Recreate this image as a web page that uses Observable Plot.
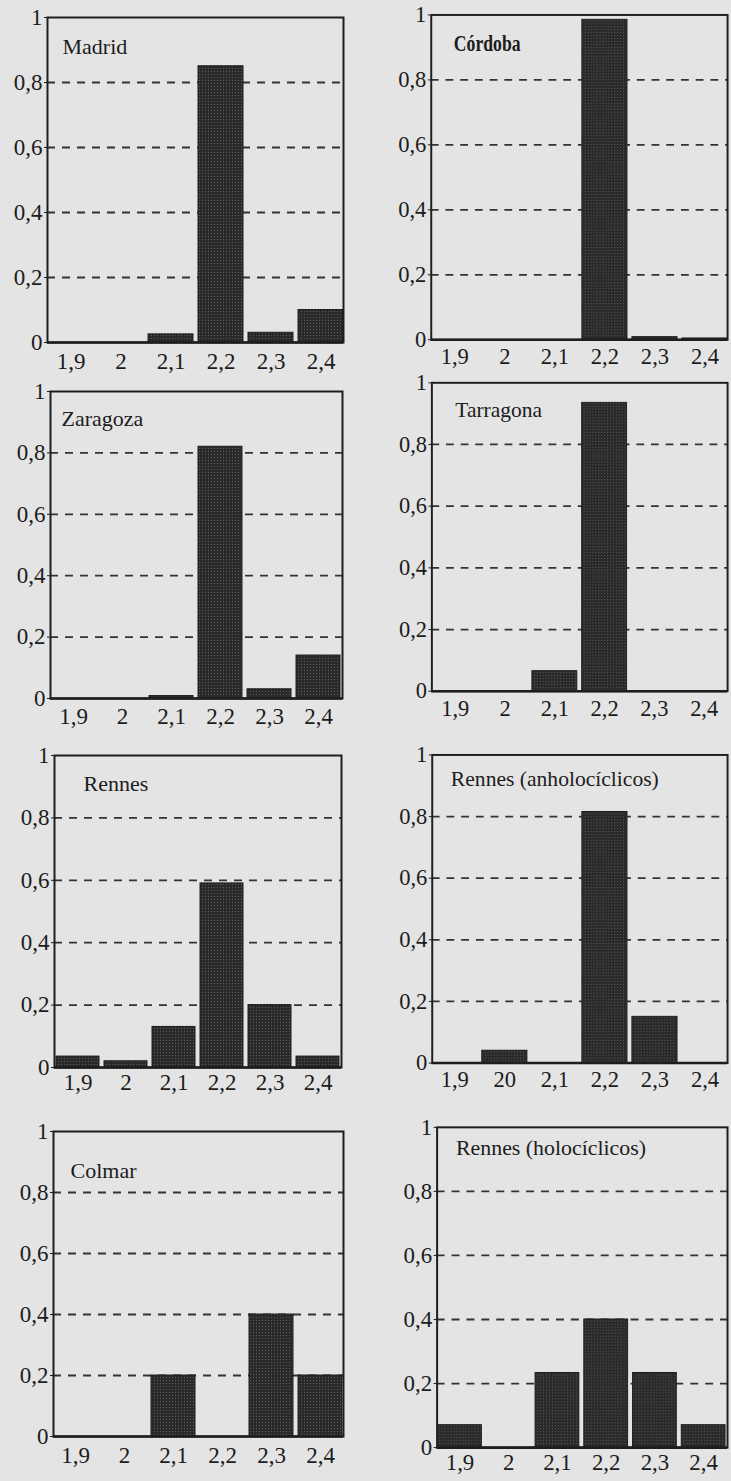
<!DOCTYPE html>
<html><head><meta charset="utf-8">
<script src="https://cdn.jsdelivr.net/npm/d3@7"></script>
<script src="https://cdn.jsdelivr.net/npm/@observablehq/plot@0.6"></script>
<style>
html,body{margin:0;padding:0;background:#e4e4e4;}
#root{position:relative;width:731px;height:1481px;overflow:hidden;background:#e4e4e4;}
#root .panel{position:absolute;}
#root svg text{font-family:"Liberation Serif","Times New Roman",serif;}
</style></head><body>
<svg width="0" height="0" style="position:absolute"><defs>
<pattern id="stip" width="3" height="3" patternUnits="userSpaceOnUse"><rect width="3" height="3" fill="#2a2a2a"/><rect x="1" y="1" width="1" height="1" fill="#5c5c5c"/></pattern>
</defs></svg>
<div id="root"></div>
<script>
// ---- data ----
const categories = ["1.9", "2", "2.1", "2.2", "2.3", "2.4"];
const xTickLabels = ["1,9", "2", "2,1", "2,2", "2,3", "2,4"];
const xTickLabelsAnhol = ["1,9", "20", "2,1", "2,2", "2,3", "2,4"];
const yTicks = [0, 0.2, 0.4, 0.6, 0.8, 1];
const yTickLabels = ["0", "0,2", "0,4", "0,6", "0,8", "1"];
const gridValues = [0.2, 0.4, 0.6, 0.8];
const titles = ["Madrid", "Córdoba", "Zaragoza", "Tarragona", "Rennes", "Rennes (anholocíclicos)", "Colmar", "Rennes (holocíclicos)"];

const madrid      = [0, 0, 0.025, 0.85, 0.03, 0.10];
const cordoba     = [0, 0, 0, 0.985, 0.008, 0.004];
const zaragoza    = [0, 0, 0.008, 0.82, 0.03, 0.14];
const tarragona   = [0, 0, 0.065, 0.935, 0, 0];
const rennes      = [0.035, 0.02, 0.13, 0.59, 0.20, 0.035];
const rennesAnhol = [0, 0.04, 0, 0.815, 0.15, 0];
const colmar      = [0, 0, 0.20, 0, 0.40, 0.20];
const rennesHolo  = [0.07, 0, 0.233, 0.40, 0.233, 0.07];

const seriesList = [madrid, cordoba, zaragoza, tarragona, rennes, rennesAnhol, colmar, rennesHolo];
const labelSets = [xTickLabels, xTickLabels, xTickLabels, xTickLabels, xTickLabels, xTickLabelsAnhol, xTickLabels, xTickLabels];

// ---- layout (frame edges in page pixels) ----
const layout = [
  {L: 47,  R: 343, T: 17,   B: 342,  tx: 15, ty: 36, pad: 10},
  {L: 432, R: 734, T: 15,   B: 346,  tx: 23, ty: 37, pad: 8},
  {L: 50,  R: 342, T: 391,  B: 698,  tx: 11, ty: 34, pad: 9},
  {L: 433, R: 736, T: 383,  B: 699,  tx: 24, ty: 35, pad: 9},
  {L: 54,  R: 341, T: 755,  B: 1067, tx: 29, ty: 35, pad: 6},
  {L: 433, R: 734, T: 755,  B: 1069, tx: 19, ty: 32, pad: 8},
  {L: 53,  R: 343, T: 1131, B: 1436, tx: 17, ty: 46, pad: 10},
  {L: 437, R: 729, T: 1127, B: 1449, tx: 19, ty: 28, pad: 6}
];

const root = document.getElementById("root");
const fontFamily = "Liberation Serif";

layout.forEach((g, i) => {
  const data = categories.map((c, k) => ({cat: c, value: seriesList[i][k]}));
  const labels = labelSets[i];
  const svgX = g.L < 365 ? 0 : 366;
  const mTop = 28, mBottom = 42;
  const svgY = g.T - mTop;
  const width = g.R + 4 - svgX;
  const height = g.B - g.T + mTop + mBottom;
  const isBold = titles[i] === "Córdoba";
  const chart = Plot.plot({
    width, height,
    marginLeft: g.L - svgX,
    marginRight: width - (g.R - svgX),
    marginTop: mTop,
    marginBottom: mBottom,
    style: {background: "transparent", fontFamily: "Liberation Serif, serif", fontSize: "22px", color: "#1c1c1c", overflow: "visible"},
    x: {type: "band", domain: categories, paddingInner: 0.1, paddingOuter: 0, label: null},
    y: {domain: [0, 1], label: null},
    marks: [
      Plot.ruleY(gridValues, {stroke: "#333", strokeWidth: 1.8, strokeDasharray: "8,7"}),
      Plot.barY(data, {x: "cat", y: "value", fill: "url(#stip)", stroke: "#1e1e1e", strokeWidth: 1}),
      Plot.frame({stroke: "#1e1e1e", strokeWidth: 2}),
      Plot.ruleY([0], {stroke: "#1e1e1e", strokeWidth: 2.6}),
      Plot.axisY({ticks: yTicks, tickFormat: d => yTickLabels[yTicks.indexOf(d)], tickSize: 3, tickPadding: 2, fontSize: 23, fontFamily, label: null, stroke: "#1e1e1e", fill: "#1c1c1c"}),
      Plot.axisX({tickSize: 0, tickPadding: g.pad, tickFormat: d => labels[categories.indexOf(d)], fontSize: 23, fontFamily, label: null, fill: "#1c1c1c"}),
      Plot.text([titles[i]], {
        text: d => d, frameAnchor: "top-left", dx: g.tx, dy: g.ty, lineAnchor: "bottom", fontFamily,
        fontSize: isBold ? 24 : 22, fontWeight: isBold ? "bold" : "normal", fill: "#1c1c1c"
      })
    ]
  });
  if (isBold) {
    d3.select(chart).selectAll("text").filter(function () { return this.textContent === "Córdoba"; })
      .attr("textLength", 68).attr("lengthAdjust", "spacingAndGlyphs");
  }
  const wrap = document.createElement("div");
  wrap.className = "panel";
  wrap.style.left = svgX + "px";
  wrap.style.top = svgY + "px";
  wrap.appendChild(chart);
  root.appendChild(wrap);
});
</script>
</body></html>
